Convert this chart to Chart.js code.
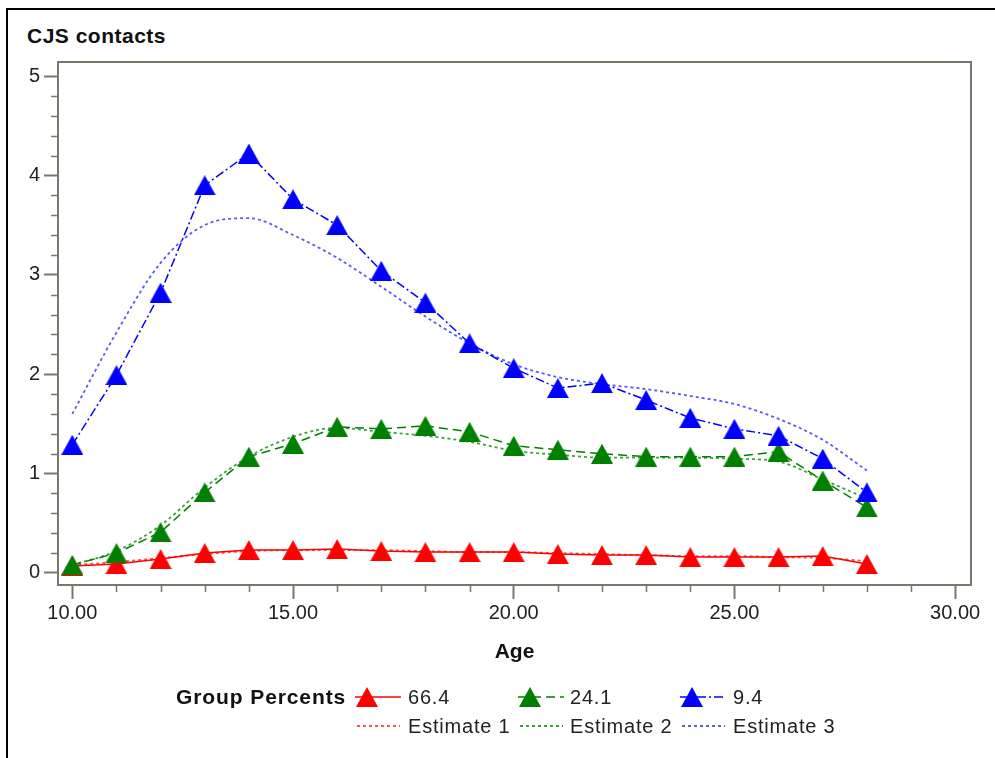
<!DOCTYPE html>
<html><head><meta charset="utf-8">
<script src="https://cdn.jsdelivr.net/npm/chart.js@4.4.1/dist/chart.umd.min.js"></script>
<style>
html,body{margin:0;padding:0;background:#fff;width:995px;height:758px;overflow:hidden;font-family:"Liberation Sans",Arial,sans-serif;}
#frame{position:absolute;left:6px;top:8px;width:1200px;height:1000px;border-top:2px solid #000;border-left:2px solid #000;box-sizing:border-box;}
#title{position:absolute;left:27px;top:24px;font-weight:bold;font-size:21px;line-height:24px;color:#111;white-space:nowrap;letter-spacing:0.5px;}
#c{position:absolute;left:0;top:0;}
.lt{position:absolute;font-size:20px;line-height:24px;color:#222;white-space:nowrap;letter-spacing:0.8px;}
.lh{position:absolute;font-size:21px;line-height:24px;color:#111;font-weight:bold;white-space:nowrap;letter-spacing:0.9px;}
svg.sym{position:absolute;overflow:visible;}
</style>
</head>
<body>
<div id="frame"></div>
<div id="title">CJS contacts</div>
<canvas id="c" width="995" height="758"></canvas>
<div id="legend"></div>
<script>
// ---- data ----
const ages = [10,11,12,13,14,15,16,17,18,19,20,21,22,23,24,25,26,27,28];
const group1 = [0.07,0.09,0.14,0.20,0.23,0.23,0.24,0.22,0.21,0.21,0.21,0.19,0.18,0.18,0.16,0.16,0.16,0.17,0.09];
const group2 = [0.08,0.20,0.41,0.81,1.17,1.30,1.47,1.45,1.48,1.42,1.28,1.24,1.20,1.17,1.17,1.17,1.22,0.93,0.66];
const group3 = [1.29,1.99,2.82,3.90,4.22,3.76,3.50,3.04,2.72,2.31,2.06,1.86,1.91,1.74,1.56,1.45,1.38,1.15,0.81];
const estimate1 = [0.08,0.11,0.15,0.19,0.22,0.23,0.23,0.23,0.22,0.21,0.21,0.20,0.19,0.18,0.17,0.17,0.16,0.15,0.12];
const estimate2 = [0.08,0.22,0.48,0.86,1.17,1.37,1.46,1.42,1.38,1.32,1.23,1.19,1.16,1.16,1.16,1.15,1.12,0.94,0.75];
const estimate3 = [1.60,2.42,3.12,3.50,3.57,3.40,3.17,2.88,2.58,2.31,2.10,1.97,1.90,1.85,1.78,1.70,1.55,1.34,1.03];
const groupLabels = ['66.4','24.1','9.4'];
const estimateLabels = ['Estimate 1','Estimate 2','Estimate 3'];
const xTicks = [10,15,20,25,30];
const yTicks = [0,1,2,3,4,5];

// ---- styles ----
const AXIS = '#7a776d';
const colors = ['#ff0000','#008000','#0000ff'];
const estColors = ['rgba(255,60,60,0.9)','rgba(40,150,40,0.9)','rgba(70,70,255,0.9)'];
const dashes = [[], [9,5], [9,3,2,3]];
const estDash = [3,3];

function tri(color){
  const c=document.createElement('canvas'); c.width=22; c.height=20;
  const g=c.getContext('2d'); g.fillStyle=color;
  g.beginPath(); g.moveTo(11,0); g.lineTo(22,20); g.lineTo(0,20); g.closePath(); g.fill();
  return c;
}
const pts = arr => ages.map((a,i)=>({x:a,y:arr[i]}));
const groups=[group1,group2,group3], ests=[estimate1,estimate2,estimate3];

const datasets=[];
for (let i=2;i>=0;i--){
  datasets.push({label:groupLabels[i],data:pts(groups[i]),borderColor:colors[i],borderWidth:1.5,
    borderDash:dashes[i],pointStyle:tri(colors[i]),pointRadius:11,pointHoverRadius:11,tension:0,fill:false});
}
for (let i=2;i>=0;i--){
  datasets.push({label:estimateLabels[i],data:pts(ests[i]),borderColor:estColors[i],borderWidth:1.8,
    borderDash:estDash,pointRadius:0,cubicInterpolationMode:'monotone',fill:false});
}

const framePlugin={
  id:'frame',
  beforeDatasetsDraw(chart){
    const {ctx,chartArea:a,scales:{x,y}}=chart;
    ctx.save();
    ctx.strokeStyle=AXIS; ctx.lineWidth=2;
    ctx.strokeRect(a.left,a.top,a.right-a.left,a.bottom-a.top);
    ctx.lineWidth=1.5; ctx.beginPath();
    for(let v=xTicks[0]; v<=xTicks[xTicks.length-1]; v++){
      if(xTicks.includes(v)) continue;
      const px=Math.round(x.getPixelForValue(v))+0.5;
      ctx.moveTo(px,a.bottom); ctx.lineTo(px,a.bottom+7);
    }
    for(let i=0;i<=25;i++){
      if(i%5===0) continue;
      const py=Math.round(y.getPixelForValue(i*0.2))+0.5;
      ctx.moveTo(a.left-7,py); ctx.lineTo(a.left,py);
    }
    ctx.stroke(); ctx.restore();
  }
};

new Chart(document.getElementById('c'),{
  type:'line',
  data:{datasets},
  options:{
    responsive:false,animation:false,devicePixelRatio:1,
    layout:{padding:{top:62,left:0,right:24,bottom:93}},
    plugins:{legend:{display:false},tooltip:{enabled:false},title:{display:false}},
    scales:{
      x:{type:'linear',min:9.676,max:30.36,
        afterBuildTicks:s=>{s.ticks=xTicks.map(v=>({value:v}));},
        afterFit:s=>{s.height=80;},
        ticks:{callback:v=>Number(v).toFixed(2),font:{size:20,family:'"Liberation Sans",Arial'},color:'#222',padding:2,maxRotation:0,autoSkip:false},
        grid:{display:true,drawOnChartArea:false,drawTicks:true,tickLength:14,tickColor:AXIS,tickWidth:2},
        border:{display:true,color:AXIS,width:2},
        title:{display:true,text:'Age',font:{size:21,weight:'bold',family:'"Liberation Sans",Arial'},color:'#111',padding:0}
      },
      y:{type:'linear',min:-0.121,max:5.141,
        afterBuildTicks:s=>{s.ticks=yTicks.map(v=>({value:v}));},
        afterFit:s=>{s.width=58;},
        ticks:{font:{size:20,family:'"Liberation Sans",Arial'},color:'#222',padding:4},
        grid:{display:true,drawOnChartArea:false,drawTicks:true,tickLength:14,tickColor:AXIS,tickWidth:2},
        border:{display:true,color:AXIS,width:2}
      }
    }
  },
  plugins:[framePlugin]
});

// ---- legend (HTML) ----
const L=document.getElementById('legend');
const row1=697,row2=726,symX=[355,518,680],txtX=[408,570,733];
let h='<div class="lh" style="left:176px;top:'+(row1-12)+'px">Group Percents</div>';
for(let i=0;i<3;i++){
  const da=dashes[i].length?dashes[i].join(','):'none';
  h+='<svg class="sym" style="left:'+symX[i]+'px;top:'+(row1-12)+'px" width="46" height="24">'+
     '<line x1="0" y1="12" x2="46" y2="12" stroke="'+colors[i]+'" stroke-width="1.5" stroke-dasharray="'+da+'"/>'+
     '<polygon points="12,2 23,22 1,22" fill="'+colors[i]+'"/></svg>';
  h+='<div class="lt" style="left:'+txtX[i]+'px;top:'+(row1-12)+'px">'+groupLabels[i]+'</div>';
  h+='<svg class="sym" style="left:'+(symX[i]+2)+'px;top:'+(row2-12)+'px" width="43" height="24">'+
     '<line x1="0" y1="12" x2="43" y2="12" stroke="'+estColors[i]+'" stroke-width="1.8" stroke-dasharray="3,3"/></svg>';
  h+='<div class="lt" style="left:'+txtX[i]+'px;top:'+(row2-12)+'px">'+estimateLabels[i]+'</div>';
}
L.innerHTML=h;
</script>
</body></html>
